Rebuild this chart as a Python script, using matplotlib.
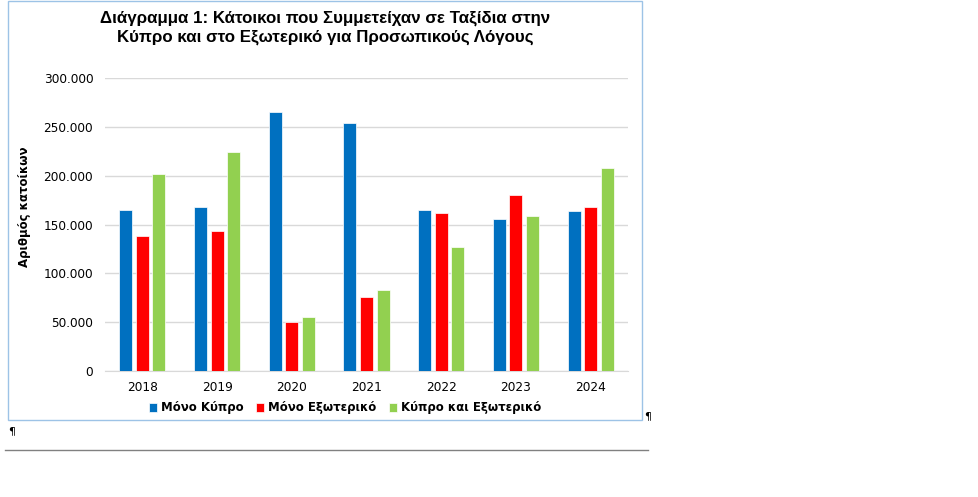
import numpy as np
import matplotlib
matplotlib.use("Agg")
import matplotlib.pyplot as plt
from matplotlib.patches import Rectangle
from matplotlib.lines import Line2D
from matplotlib.ticker import FuncFormatter

# Data
years = ["2018", "2019", "2020", "2021", "2022", "2023", "2024"]
only_cyprus = [165300, 167700, 265000, 253700, 165300, 155400, 163900]
only_abroad = [137800, 142900, 50300, 75500, 161600, 180600, 168400]
cyprus_and_abroad = [201700, 223800, 54800, 83300, 127200, 159200, 208200]
series_names = ["Μόνο Κύπρο", "Μόνο Εξωτερικό", "Κύπρο και Εξωτερικό"]
colors = ["#0070C0", "#FF0000", "#92D050"]

W, H = 979, 497
fig = plt.figure(figsize=(W / 100, H / 100), dpi=100)

# chart frame
fig.patches.append(Rectangle((8 / W, 1 - 420 / H), 634 / W, 419 / H, transform=fig.transFigure,
                             fill=False, edgecolor="#9DC3E6", linewidth=1))

ax = fig.add_axes([105 / W, 1 - 371 / H, 523 / W, 293 / H])
x = np.arange(len(years))
width = 0.175
step = 0.222
for i, (vals, name, c) in enumerate(zip([only_cyprus, only_abroad, cyprus_and_abroad], series_names, colors)):
    ax.bar(x + (i - 1) * step, vals, width, color=c, edgecolor="white", linewidth=0.5, label=name, zorder=3)

ax.set_xlim(-0.5, len(years) - 0.5)
ax.set_ylim(0, 300000)
ax.set_yticks(np.arange(0, 300001, 50000))
ax.yaxis.set_major_formatter(FuncFormatter(lambda v, p: f"{int(v):,}".replace(",", ".")))
ax.set_xticks(x)
ax.set_xticklabels(years)
ax.grid(axis="y", color="#D9D9D9", linewidth=1, zorder=0)
for s in ["top", "right", "left"]:
    ax.spines[s].set_visible(False)
ax.spines["bottom"].set_color("#D9D9D9")
ax.tick_params(axis="both", length=0, labelsize=8.7, colors="#000000")
ax.tick_params(axis="y", pad=8.5)
ax.tick_params(axis="x", pad=7)

fig.text(25 / W, 1 - 207 / H, "Αριθμός κατοίκων", rotation=90, ha="center", va="center",
         fontsize=8.5, fontweight="bold")

fig.text(325 / W, 1 - 28 / H, "Διάγραμμα 1: Κάτοικοι που Συμμετείχαν σε Ταξίδια στην\nΚύπρο και στο Εξωτερικό για Προσωπικούς Λόγους",
         ha="center", va="center", fontsize=12.2, fontweight="bold", family="Liberation Sans",
         linespacing=1.3)

handles, labels = ax.get_legend_handles_labels()
fig.legend(handles, labels, loc="center", bbox_to_anchor=(345 / W, 1 - 408 / H), ncol=3, frameon=False,
           prop={"size": 8.5, "weight": "bold"}, handlelength=0.7, handleheight=0.7,
           handletextpad=0.3, columnspacing=1.1)

# page marks below the chart
fig.text(8 / W, 1 - 431 / H, "¶", fontsize=8, ha="left", va="center")
fig.text(644 / W, 1 - 416 / H, "¶", fontsize=8, ha="left", va="center")
fig.lines.append(Line2D([5 / W, 648 / W], [1 - 450 / H, 1 - 450 / H], transform=fig.transFigure,
                        color="#808080", linewidth=1))

fig.savefig("out.png", dpi=100)
